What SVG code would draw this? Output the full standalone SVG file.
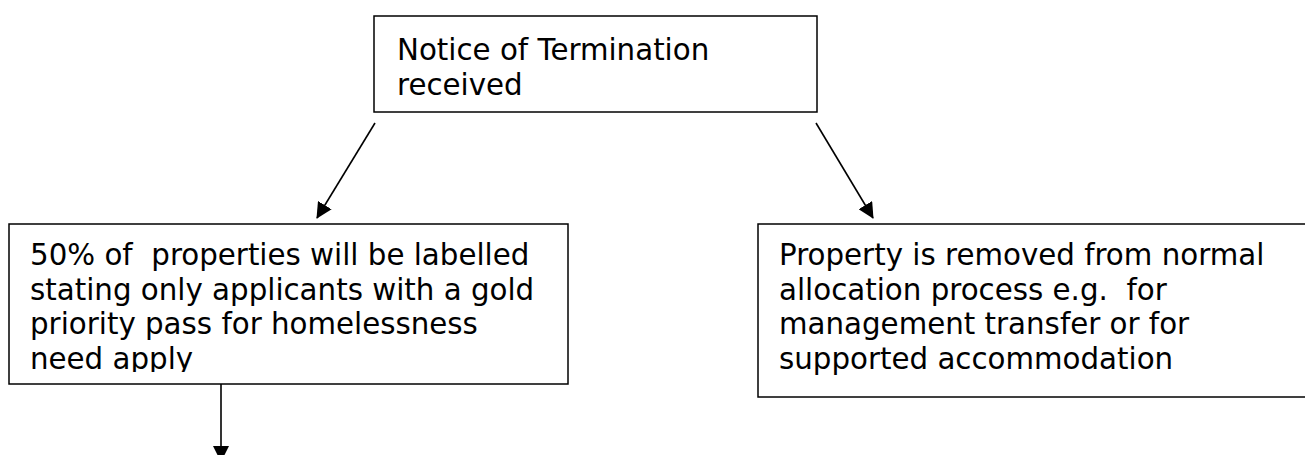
<svg xmlns="http://www.w3.org/2000/svg" width="1305" height="455" viewBox="0 0 1305 455">
  <style>
    .box { fill: #ffffff; stroke: #000000; stroke-width: 1.5; }
    .txt { font-family: "DejaVu Sans", Verdana, sans-serif; font-size: 29.3px; fill: #000000; }
    .conn { stroke: #000000; stroke-width: 1.6; fill: none; marker-end: url(#arrow); }
  </style>
  <defs>
    <marker id="arrow" markerUnits="userSpaceOnUse" markerWidth="16" markerHeight="16" refX="15" refY="8" orient="auto">
      <path d="M0,0 L16,8 L0,16 z" fill="#000000"/>
    </marker>
    <clipPath id="clipLeft">
      <rect x="9" y="224" width="559" height="148"/>
    </clipPath>
  </defs>
  <rect width="1305" height="455" fill="#ffffff"/>

  <g id="node-notice">
    <rect class="box" x="374" y="16" width="443" height="96"/>
    <text class="txt" x="397" y="60">Notice of Termination</text>
    <text class="txt" x="397" y="94.5">received</text>
  </g>

  <g id="node-labelled">
    <rect class="box" x="9" y="224" width="559" height="160"/>
    <g clip-path="url(#clipLeft)">
      <text class="txt" x="30" y="265" xml:space="preserve">50% of  properties will be labelled</text>
      <text class="txt" x="30" y="299.5">stating only applicants with a gold</text>
      <text class="txt" x="30" y="334">priority pass for homelessness</text>
      <text class="txt" x="30" y="368.5">need apply</text>
    </g>
  </g>

  <g id="node-removed">
    <rect class="box" x="758" y="224" width="560" height="173"/>
    <text class="txt" x="779" y="265">Property is removed from normal</text>
    <text class="txt" x="779" y="299.5" xml:space="preserve">allocation process e.g.  for</text>
    <text class="txt" x="779" y="334">management transfer or for</text>
    <text class="txt" x="779" y="368.5">supported accommodation</text>
  </g>

  <g id="connectors">
    <line class="conn" x1="375" y1="123" x2="317" y2="218"/>
    <line class="conn" x1="816" y1="123" x2="873" y2="218"/>
    <line class="conn" x1="221" y1="384" x2="221" y2="461"/>
  </g>
</svg>
